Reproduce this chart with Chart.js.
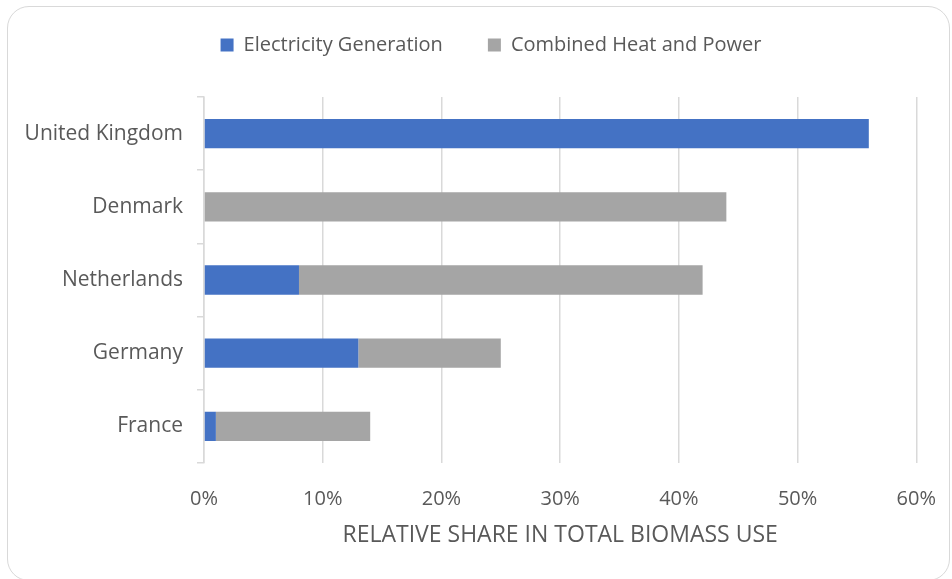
<!DOCTYPE html>
<html>
<head>
<meta charset="utf-8">
<script src="https://cdn.jsdelivr.net/npm/chart.js@4"></script>
<style>
  html, body { margin: 0; padding: 0; background: #ffffff; overflow: hidden; width: 952px; height: 579px; }
  #frame { position: absolute; left: 7px; top: 6px; width: 943px; height: 575px; border: 1.5px solid #d9d9d9; border-radius: 22px; box-sizing: border-box; }
  #wrap { position: absolute; left: 0; top: 0; width: 952px; height: 579px; }
</style>
</head>
<body>
<div id="frame"></div>
<div id="wrap"><canvas id="c" width="952" height="579"></canvas></div>
<script>
const categories = ["United Kingdom", "Denmark", "Netherlands", "Germany", "France"];
const electricityGeneration = [56, 0, 8, 13, 1];
const combinedHeatAndPower = [0, 44, 34, 12, 13];
const seriesNames = ["Electricity Generation", "Combined Heat and Power"];
const xTickValues = [0, 10, 20, 30, 40, 50, 60];
const xAxisTitle = "RELATIVE SHARE IN TOTAL BIOMASS USE";

const FONT = "'Open Sans', 'Liberation Sans', sans-serif";
const TEXT = "#595959";
const GRID = "#d9d9d9";

const LEG_DX = 27;
const LEG_DY = -10;

const legendTweak = {
  id: 'legendTweak',
  beforeInit(chart) {
    const lg = chart.legend;
    if (!lg) return;
    const fit = lg.fit.bind(lg);
    lg.fit = function () { fit(); this.height = 97; };
    const draw = lg.draw.bind(lg);
    lg.draw = function () {
      const ctx = chart.ctx;
      ctx.save();
      ctx.translate(LEG_DX, LEG_DY);
      draw();
      ctx.restore();
    };
  }
};

new Chart(document.getElementById('c'), {
  type: 'bar',
  data: {
    labels: categories,
    datasets: [
      { label: seriesNames[0], data: electricityGeneration, backgroundColor: '#4472C4', borderWidth: 0 },
      { label: seriesNames[1], data: combinedHeatAndPower, backgroundColor: '#A5A5A5', borderWidth: 0 }
    ]
  },
  options: {
    indexAxis: 'y',
    responsive: false,
    animation: false,
    devicePixelRatio: 1,
    layout: { padding: { left: 0, right: 24, top: 0, bottom: 0 } },
    datasets: { bar: { categoryPercentage: 1, barPercentage: 0.4 } },
    plugins: {
      tooltip: { enabled: false },
      legend: {
        display: true,
        position: 'top',
        labels: {
          boxWidth: 13,
          boxHeight: 13,
          padding: 45,
          color: TEXT,
          font: { family: FONT, size: 20 }
        }
      }
    },
    scales: {
      x: {
        stacked: true,
        min: 0,
        max: 60,
        afterBuildTicks(scale) { scale.ticks = xTickValues.map(v => ({ value: v })); },
        afterFit(scale) { scale.height = 116; },
        border: { display: false },
        grid: { color: GRID, lineWidth: 1.5, drawTicks: true, tickLength: 8, tickColor: 'rgba(0,0,0,0)' },
        ticks: {
          color: TEXT,
          padding: 16,
          font: { family: FONT, size: 20 },
          callback: v => v + '%'
        },
        title: {
          display: true,
          text: xAxisTitle,
          color: TEXT,
          padding: { top: 8, bottom: 30 },
          font: { family: FONT, size: 23 }
        }
      },
      y: {
        stacked: true,
        afterFit(scale) { scale.width = 204; },
        border: { display: true, color: GRID, width: 1.5 },
        grid: { drawOnChartArea: false, drawTicks: true, tickLength: 7, color: GRID, lineWidth: 1.5, offset: true },
        ticks: {
          color: TEXT,
          padding: 14,
          font: { family: FONT, size: 21 }
        }
      }
    }
  },
  plugins: [legendTweak]
});
</script>
</body>
</html>
